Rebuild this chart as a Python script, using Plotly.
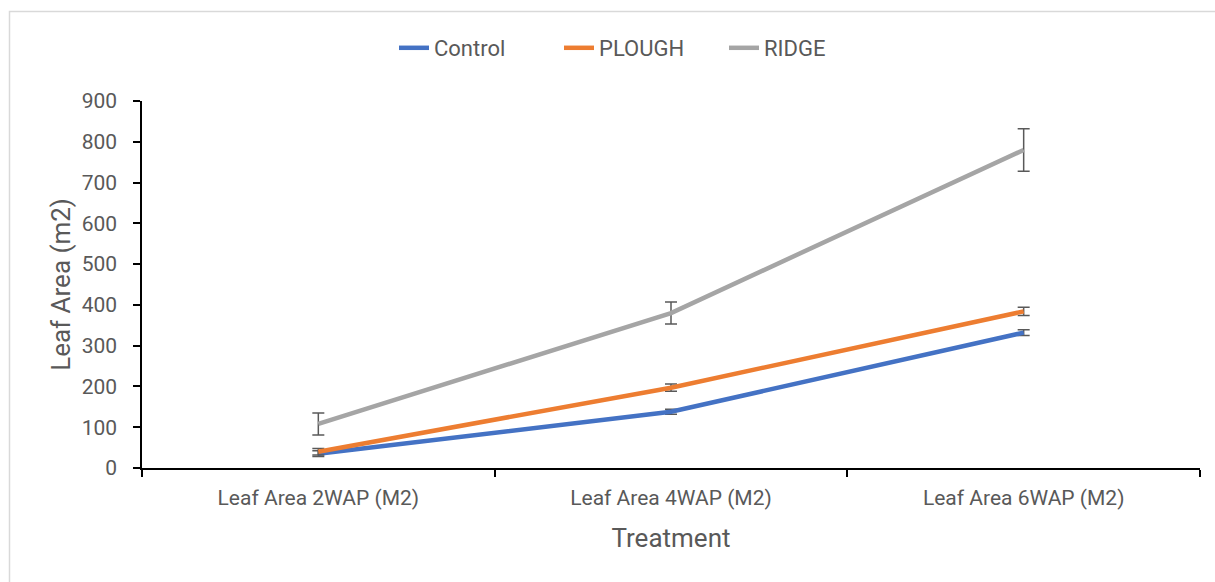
import plotly.graph_objects as go

categories = ["Leaf Area 2WAP (M2)", "Leaf Area 4WAP (M2)", "Leaf Area 6WAP (M2)"]
control = [35, 138, 332]
control_err = [7, 6, 7]
plough = [40, 197, 384]
plough_err = [8, 9, 10]
ridge = [108, 380, 780]
ridge_err = [27, 27, 52]

series = [
    ("Control", control, control_err, "#4472C4"),
    ("PLOUGH", plough, plough_err, "#ED7D31"),
    ("RIDGE", ridge, ridge_err, "#A5A5A5"),
]

fig = go.Figure()
for name, vals, errs, color in series:
    fig.add_trace(go.Scatter(
        x=categories, y=vals, name=name, mode="lines",
        line=dict(color=color, width=4.5),
        error_y=dict(type="data", array=errs, visible=True,
                     color="#595959", thickness=1.5, width=6),
    ))

font_family = "Roboto"
fig.update_layout(
    width=1215, height=582,
    paper_bgcolor="white", plot_bgcolor="white",
    margin=dict(l=142, r=15, t=101, b=114),
    font=dict(family=font_family, color="#595959", size=21),
    legend=dict(orientation="h", x=(394 - 142) / 1058, xanchor="left",
                y=(468 - 48) / 367, yanchor="middle",
                font=dict(size=22, color="#595959"), bgcolor="rgba(0,0,0,0)",
                entrywidth=120, entrywidthmode="pixels", tracegroupgap=0),
    xaxis=dict(
        type="category", range=[-0.5, 2.5], tickson="boundaries",
        ticks="outside", ticklen=7, tickcolor="black", tickwidth=1.5,
        showline=True, linecolor="black", linewidth=1.5, showgrid=False,
        tickfont=dict(size=21, color="#595959"), ticklabelstandoff=10,
        title=dict(text="Treatment", font=dict(size=26, color="#595959"), standoff=20),
    ),
    yaxis=dict(
        range=[0, 900], dtick=100, ticks="outside", ticklen=7,
        tickcolor="black", tickwidth=1.5,
        showline=True, linecolor="black", linewidth=1.5, showgrid=False,
        zeroline=False,
        tickfont=dict(size=21, color="#595959"), ticklabelstandoff=12,
        title=dict(text="Leaf Area (m2)", font=dict(size=26, color="#595959"), standoff=4),
    ),
    shapes=[dict(type="rect", xref="paper", yref="paper",
                 x0=(9.5 - 142) / 1058, x1=1.1,
                 y0=-0.4, y1=(468 - 11.5) / 367,
                 line=dict(color="#D9D9D9", width=1.5), fillcolor="rgba(0,0,0,0)",
                 layer="below")],
)

fig.write_html("out.html", config={"displayModeBar": False},
               post_script="document.body.style.margin='0';document.body.style.overflow='hidden';")
